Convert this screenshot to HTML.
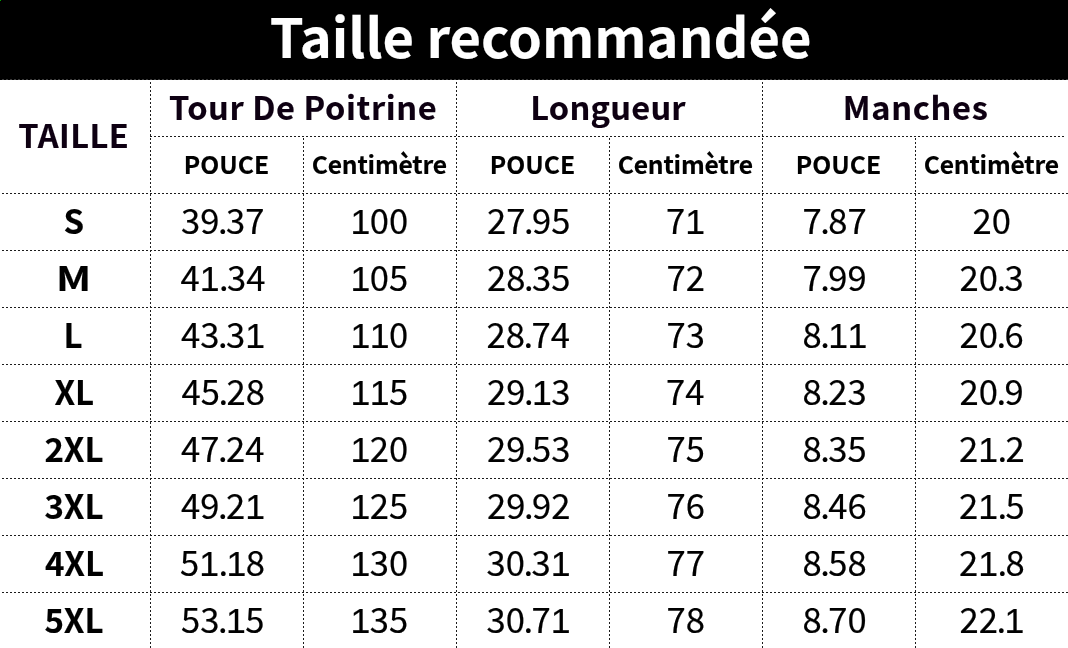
<!DOCTYPE html>
<html lang="fr"><head><meta charset="utf-8"><title>Taille recommandée</title>
<style>
html,body{margin:0;padding:0;background:#fff;}
body{width:1068px;height:648px;position:relative;overflow:hidden;font-family:'Noto Sans CJK SC', 'Liberation Sans', sans-serif;}
.hdr{position:absolute;left:0;top:0;width:1068px;height:79px;background:#000;}
.hdr2{position:absolute;left:0;top:79px;width:1068px;height:1px;background:repeating-linear-gradient(to right,#000 0 2px,#3a3a3a 2px 4px);}
.t{position:absolute;white-space:nowrap;}
.o{font-family:'Liberation Sans',sans-serif;font-size:1.029em;line-height:0;font-kerning:none;letter-spacing:-0.6px}
.h{position:absolute;height:1px;background:repeating-linear-gradient(to right,transparent 0 2px,#1c1c1c 2px 4px);}
.v{position:absolute;width:1px;background:repeating-linear-gradient(to bottom,transparent 0 2px,#1c1c1c 2px 4px);}
</style></head><body>
<div class="hdr"></div><div class="hdr2"></div><div style="position:absolute;left:0;top:0;width:1px;height:1px;background:#00a000"></div>
<div class=h style="left:150px;top:136px;width:918px;background-position:-2px 0"></div><div class=h style="left:0px;top:193px;width:1068px;background-position:0px 0"></div><div class=h style="left:0px;top:250px;width:1068px;background-position:0px 0"></div><div class=h style="left:0px;top:307px;width:1068px;background-position:0px 0"></div><div class=h style="left:0px;top:364px;width:1068px;background-position:0px 0"></div><div class=h style="left:0px;top:421px;width:1068px;background-position:0px 0"></div><div class=h style="left:0px;top:478px;width:1068px;background-position:0px 0"></div><div class=h style="left:0px;top:535px;width:1068px;background-position:0px 0"></div><div class=h style="left:0px;top:592px;width:1068px;background-position:0px 0"></div><div class=v style="left:150px;top:80px;height:568px;background-position:0 0px"></div><div class=v style="left:456px;top:80px;height:568px;background-position:0 0px"></div><div class=v style="left:762px;top:80px;height:568px;background-position:0 0px"></div><div class=v style="left:303px;top:136px;height:512px;background-position:0 0px"></div><div class=v style="left:609px;top:136px;height:512px;background-position:0 0px"></div><div class=v style="left:915px;top:136px;height:512px;background-position:0 0px"></div>
<div class=t style="left:269.85px;top:8px;font-weight:bold;font-size:54.3px;line-height:54.3px;letter-spacing:0px;color:#fff;-webkit-text-stroke-width:0.15px">Taille recommandée</div>
<div class=t style="left:18.30px;top:118px;font-weight:bold;font-size:32.6px;line-height:32.6px;letter-spacing:0.45px;color:#0e0012;-webkit-text-stroke-width:0.15px">TAILLE</div>
<div class=t style="left:168.90px;top:90px;font-weight:bold;font-size:32.6px;line-height:32.6px;letter-spacing:0.59px;color:#0e0012;-webkit-text-stroke-width:0.15px">Tour De Poitrine</div>
<div class=t style="left:530.25px;top:90px;font-weight:bold;font-size:32.6px;line-height:32.6px;letter-spacing:0.23px;color:#0e0012;-webkit-text-stroke-width:0.15px">Longueur</div>
<div class=t style="left:842.80px;top:90px;font-weight:bold;font-size:32.6px;line-height:32.6px;letter-spacing:0.67px;color:#0e0012;-webkit-text-stroke-width:0.15px">Manches</div>
<div class=t style="left:183.85px;top:151px;font-weight:bold;font-size:24.7px;line-height:24.7px;letter-spacing:0px;color:#000;-webkit-text-stroke-width:0.15px">POUCE</div>
<div class=t style="left:311.65px;top:151px;font-weight:bold;font-size:24.7px;line-height:24.7px;letter-spacing:-0.2px;color:#000;-webkit-text-stroke-width:0.15px">Centimètre</div>
<div class=t style="left:489.85px;top:151px;font-weight:bold;font-size:24.7px;line-height:24.7px;letter-spacing:0px;color:#000;-webkit-text-stroke-width:0.15px">POUCE</div>
<div class=t style="left:617.65px;top:151px;font-weight:bold;font-size:24.7px;line-height:24.7px;letter-spacing:-0.2px;color:#000;-webkit-text-stroke-width:0.15px">Centimètre</div>
<div class=t style="left:795.85px;top:151px;font-weight:bold;font-size:24.7px;line-height:24.7px;letter-spacing:0px;color:#000;-webkit-text-stroke-width:0.15px">POUCE</div>
<div class=t style="left:923.65px;top:151px;font-weight:bold;font-size:24.7px;line-height:24.7px;letter-spacing:-0.2px;color:#000;-webkit-text-stroke-width:0.15px">Centimètre</div>
<div class=t style="left:63.40px;top:204px;font-weight:bold;font-size:33px;line-height:33px;letter-spacing:0px;color:#000;-webkit-text-stroke-width:0.15px">S</div>
<div class=t style="left:181.00px;top:202px;font-weight:normal;font-size:34.6px;line-height:34.6px;letter-spacing:0px;color:#000;-webkit-text-stroke-width:0.2px">3<span style="letter-spacing:-1.5px">9.</span>37</div>
<div class=t style="left:350.50px;top:202px;font-weight:normal;font-size:34.6px;line-height:34.6px;letter-spacing:0px;color:#000;-webkit-text-stroke-width:0.2px"><span class=o>1</span>00</div>
<div class=t style="left:487.00px;top:202px;font-weight:normal;font-size:34.6px;line-height:34.6px;letter-spacing:0px;color:#000;-webkit-text-stroke-width:0.2px">2<span style="letter-spacing:-1.5px">7.</span>95</div>
<div class=t style="left:666.00px;top:202px;font-weight:normal;font-size:34.6px;line-height:34.6px;letter-spacing:0px;color:#000;-webkit-text-stroke-width:0.2px">7<span class=o>1</span></div>
<div class=t style="left:802.50px;top:202px;font-weight:normal;font-size:34.6px;line-height:34.6px;letter-spacing:0px;color:#000;-webkit-text-stroke-width:0.2px"><span style="letter-spacing:-1.5px">7.</span>87</div>
<div class=t style="left:972.50px;top:202px;font-weight:normal;font-size:34.6px;line-height:34.6px;letter-spacing:0px;color:#000;-webkit-text-stroke-width:0.2px">20</div>
<div class=t style="left:56.40px;top:261px;font-weight:bold;font-size:33px;line-height:33px;letter-spacing:0px;color:#000;-webkit-text-stroke-width:0.15px;transform-origin:0 0;transform:scaleX(1.25)">M</div>
<div class=t style="left:180.50px;top:259px;font-weight:normal;font-size:34.6px;line-height:34.6px;letter-spacing:0px;color:#000;-webkit-text-stroke-width:0.2px">4<span style="letter-spacing:-1.5px"><span class=o>1</span>.</span>34</div>
<div class=t style="left:350.50px;top:259px;font-weight:normal;font-size:34.6px;line-height:34.6px;letter-spacing:0px;color:#000;-webkit-text-stroke-width:0.2px"><span class=o>1</span>05</div>
<div class=t style="left:487.00px;top:259px;font-weight:normal;font-size:34.6px;line-height:34.6px;letter-spacing:0px;color:#000;-webkit-text-stroke-width:0.2px">2<span style="letter-spacing:-1.5px">8.</span>35</div>
<div class=t style="left:666.50px;top:259px;font-weight:normal;font-size:34.6px;line-height:34.6px;letter-spacing:0px;color:#000;-webkit-text-stroke-width:0.2px">72</div>
<div class=t style="left:802.50px;top:259px;font-weight:normal;font-size:34.6px;line-height:34.6px;letter-spacing:0px;color:#000;-webkit-text-stroke-width:0.2px"><span style="letter-spacing:-1.5px">7.</span>99</div>
<div class=t style="left:959.50px;top:259px;font-weight:normal;font-size:34.6px;line-height:34.6px;letter-spacing:0px;color:#000;-webkit-text-stroke-width:0.2px">2<span style="letter-spacing:-1.5px">0.</span>3</div>
<div class=t style="left:63.40px;top:318px;font-weight:bold;font-size:33px;line-height:33px;letter-spacing:0px;color:#000;-webkit-text-stroke-width:0.15px">L</div>
<div class=t style="left:181.00px;top:316px;font-weight:normal;font-size:34.6px;line-height:34.6px;letter-spacing:0px;color:#000;-webkit-text-stroke-width:0.2px">4<span style="letter-spacing:-1.5px">3.</span>3<span class=o>1</span></div>
<div class=t style="left:350.50px;top:316px;font-weight:normal;font-size:34.6px;line-height:34.6px;letter-spacing:0px;color:#000;-webkit-text-stroke-width:0.2px"><span class=o>1</span><span class=o>1</span>0</div>
<div class=t style="left:486.50px;top:316px;font-weight:normal;font-size:34.6px;line-height:34.6px;letter-spacing:0px;color:#000;-webkit-text-stroke-width:0.2px">2<span style="letter-spacing:-1.5px">8.</span>74</div>
<div class=t style="left:666.50px;top:316px;font-weight:normal;font-size:34.6px;line-height:34.6px;letter-spacing:0px;color:#000;-webkit-text-stroke-width:0.2px">73</div>
<div class=t style="left:802.50px;top:316px;font-weight:normal;font-size:34.6px;line-height:34.6px;letter-spacing:0px;color:#000;-webkit-text-stroke-width:0.2px"><span style="letter-spacing:-1.5px">8.</span><span class=o>1</span><span class=o>1</span></div>
<div class=t style="left:959.50px;top:316px;font-weight:normal;font-size:34.6px;line-height:34.6px;letter-spacing:0px;color:#000;-webkit-text-stroke-width:0.2px">2<span style="letter-spacing:-1.5px">0.</span>6</div>
<div class=t style="left:54.40px;top:375px;font-weight:bold;font-size:33px;line-height:33px;letter-spacing:0px;color:#000;-webkit-text-stroke-width:0.15px">XL</div>
<div class=t style="left:181.50px;top:373px;font-weight:normal;font-size:34.6px;line-height:34.6px;letter-spacing:0px;color:#000;-webkit-text-stroke-width:0.2px">4<span style="letter-spacing:-1.5px">5.</span>28</div>
<div class=t style="left:350.50px;top:373px;font-weight:normal;font-size:34.6px;line-height:34.6px;letter-spacing:0px;color:#000;-webkit-text-stroke-width:0.2px"><span class=o>1</span><span class=o>1</span>5</div>
<div class=t style="left:487.00px;top:373px;font-weight:normal;font-size:34.6px;line-height:34.6px;letter-spacing:0px;color:#000;-webkit-text-stroke-width:0.2px">2<span style="letter-spacing:-1.5px">9.</span><span class=o>1</span>3</div>
<div class=t style="left:666.00px;top:373px;font-weight:normal;font-size:34.6px;line-height:34.6px;letter-spacing:0px;color:#000;-webkit-text-stroke-width:0.2px">74</div>
<div class=t style="left:802.50px;top:373px;font-weight:normal;font-size:34.6px;line-height:34.6px;letter-spacing:0px;color:#000;-webkit-text-stroke-width:0.2px"><span style="letter-spacing:-1.5px">8.</span>23</div>
<div class=t style="left:959.50px;top:373px;font-weight:normal;font-size:34.6px;line-height:34.6px;letter-spacing:0px;color:#000;-webkit-text-stroke-width:0.2px">2<span style="letter-spacing:-1.5px">0.</span>9</div>
<div class=t style="left:44.40px;top:432px;font-weight:bold;font-size:33px;line-height:33px;letter-spacing:0px;color:#000;-webkit-text-stroke-width:0.15px">2XL</div>
<div class=t style="left:181.00px;top:430px;font-weight:normal;font-size:34.6px;line-height:34.6px;letter-spacing:0px;color:#000;-webkit-text-stroke-width:0.2px">4<span style="letter-spacing:-1.5px">7.</span>24</div>
<div class=t style="left:350.50px;top:430px;font-weight:normal;font-size:34.6px;line-height:34.6px;letter-spacing:0px;color:#000;-webkit-text-stroke-width:0.2px"><span class=o>1</span>20</div>
<div class=t style="left:487.00px;top:430px;font-weight:normal;font-size:34.6px;line-height:34.6px;letter-spacing:0px;color:#000;-webkit-text-stroke-width:0.2px">2<span style="letter-spacing:-1.5px">9.</span>53</div>
<div class=t style="left:666.50px;top:430px;font-weight:normal;font-size:34.6px;line-height:34.6px;letter-spacing:0px;color:#000;-webkit-text-stroke-width:0.2px">75</div>
<div class=t style="left:802.50px;top:430px;font-weight:normal;font-size:34.6px;line-height:34.6px;letter-spacing:0px;color:#000;-webkit-text-stroke-width:0.2px"><span style="letter-spacing:-1.5px">8.</span>35</div>
<div class=t style="left:959.00px;top:430px;font-weight:normal;font-size:34.6px;line-height:34.6px;letter-spacing:0px;color:#000;-webkit-text-stroke-width:0.2px">2<span style="letter-spacing:-1.5px"><span class=o>1</span>.</span>2</div>
<div class=t style="left:44.40px;top:489px;font-weight:bold;font-size:33px;line-height:33px;letter-spacing:0px;color:#000;-webkit-text-stroke-width:0.15px">3XL</div>
<div class=t style="left:181.00px;top:487px;font-weight:normal;font-size:34.6px;line-height:34.6px;letter-spacing:0px;color:#000;-webkit-text-stroke-width:0.2px">4<span style="letter-spacing:-1.5px">9.</span>2<span class=o>1</span></div>
<div class=t style="left:350.50px;top:487px;font-weight:normal;font-size:34.6px;line-height:34.6px;letter-spacing:0px;color:#000;-webkit-text-stroke-width:0.2px"><span class=o>1</span>25</div>
<div class=t style="left:487.00px;top:487px;font-weight:normal;font-size:34.6px;line-height:34.6px;letter-spacing:0px;color:#000;-webkit-text-stroke-width:0.2px">2<span style="letter-spacing:-1.5px">9.</span>92</div>
<div class=t style="left:666.50px;top:487px;font-weight:normal;font-size:34.6px;line-height:34.6px;letter-spacing:0px;color:#000;-webkit-text-stroke-width:0.2px">76</div>
<div class=t style="left:802.50px;top:487px;font-weight:normal;font-size:34.6px;line-height:34.6px;letter-spacing:0px;color:#000;-webkit-text-stroke-width:0.2px"><span style="letter-spacing:-1.5px">8.</span>46</div>
<div class=t style="left:959.00px;top:487px;font-weight:normal;font-size:34.6px;line-height:34.6px;letter-spacing:0px;color:#000;-webkit-text-stroke-width:0.2px">2<span style="letter-spacing:-1.5px"><span class=o>1</span>.</span>5</div>
<div class=t style="left:44.90px;top:546px;font-weight:bold;font-size:33px;line-height:33px;letter-spacing:0px;color:#000;-webkit-text-stroke-width:0.15px">4XL</div>
<div class=t style="left:180.00px;top:544px;font-weight:normal;font-size:34.6px;line-height:34.6px;letter-spacing:0px;color:#000;-webkit-text-stroke-width:0.2px">5<span style="letter-spacing:-1.5px"><span class=o>1</span>.</span><span class=o>1</span>8</div>
<div class=t style="left:350.50px;top:544px;font-weight:normal;font-size:34.6px;line-height:34.6px;letter-spacing:0px;color:#000;-webkit-text-stroke-width:0.2px"><span class=o>1</span>30</div>
<div class=t style="left:486.50px;top:544px;font-weight:normal;font-size:34.6px;line-height:34.6px;letter-spacing:0px;color:#000;-webkit-text-stroke-width:0.2px">3<span style="letter-spacing:-1.5px">0.</span>3<span class=o>1</span></div>
<div class=t style="left:666.50px;top:544px;font-weight:normal;font-size:34.6px;line-height:34.6px;letter-spacing:0px;color:#000;-webkit-text-stroke-width:0.2px">77</div>
<div class=t style="left:802.50px;top:544px;font-weight:normal;font-size:34.6px;line-height:34.6px;letter-spacing:0px;color:#000;-webkit-text-stroke-width:0.2px"><span style="letter-spacing:-1.5px">8.</span>58</div>
<div class=t style="left:959.00px;top:544px;font-weight:normal;font-size:34.6px;line-height:34.6px;letter-spacing:0px;color:#000;-webkit-text-stroke-width:0.2px">2<span style="letter-spacing:-1.5px"><span class=o>1</span>.</span>8</div>
<div class=t style="left:44.40px;top:603px;font-weight:bold;font-size:33px;line-height:33px;letter-spacing:0px;color:#000;-webkit-text-stroke-width:0.15px">5XL</div>
<div class=t style="left:181.00px;top:601px;font-weight:normal;font-size:34.6px;line-height:34.6px;letter-spacing:0px;color:#000;-webkit-text-stroke-width:0.2px">5<span style="letter-spacing:-1.5px">3.</span><span class=o>1</span>5</div>
<div class=t style="left:350.50px;top:601px;font-weight:normal;font-size:34.6px;line-height:34.6px;letter-spacing:0px;color:#000;-webkit-text-stroke-width:0.2px"><span class=o>1</span>35</div>
<div class=t style="left:486.50px;top:601px;font-weight:normal;font-size:34.6px;line-height:34.6px;letter-spacing:0px;color:#000;-webkit-text-stroke-width:0.2px">3<span style="letter-spacing:-1.5px">0.</span>7<span class=o>1</span></div>
<div class=t style="left:666.50px;top:601px;font-weight:normal;font-size:34.6px;line-height:34.6px;letter-spacing:0px;color:#000;-webkit-text-stroke-width:0.2px">78</div>
<div class=t style="left:802.50px;top:601px;font-weight:normal;font-size:34.6px;line-height:34.6px;letter-spacing:0px;color:#000;-webkit-text-stroke-width:0.2px"><span style="letter-spacing:-1.5px">8.</span>70</div>
<div class=t style="left:959.50px;top:601px;font-weight:normal;font-size:34.6px;line-height:34.6px;letter-spacing:0px;color:#000;-webkit-text-stroke-width:0.2px">2<span style="letter-spacing:-1.5px">2.</span><span class=o>1</span></div>
</body></html>
